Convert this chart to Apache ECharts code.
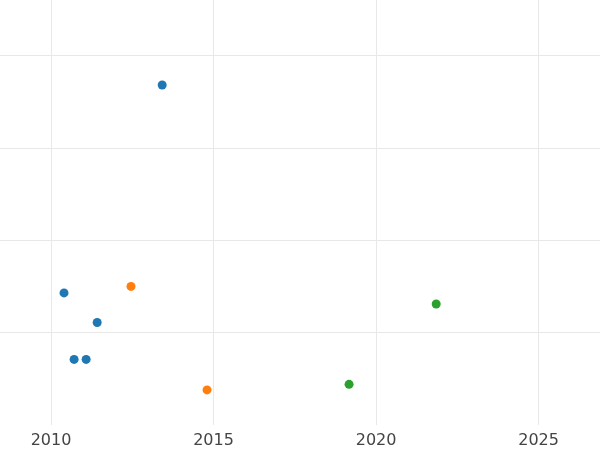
<!DOCTYPE html>
<html>
<head>
<meta charset="utf-8">
<script src="https://cdn.jsdelivr.net/npm/echarts@6/dist/echarts.min.js"></script>
<style>html,body{margin:0;padding:0;background:#fff}#chart{width:600px;height:450px}</style>
</head>
<body>
<div id="chart"></div>
<script>
var blueX = [2013.42, 2010.4, 2011.42, 2010.71, 2011.08];
var blueY = [3.68, 1.43, 1.11, 0.71, 0.71];
var orangeX = [2012.46, 2014.8];
var orangeY = [1.5, 0.38];
var greenX = [2019.17, 2021.85];
var greenY = [0.44, 1.31];
var xTicks = [2010, 2015, 2020, 2025];
var yGrid = [1, 2, 3, 4];

function pairs(xs, ys) {
    var out = [];
    for (var i = 0; i < xs.length; i++) out.push([xs[i], ys[i]]);
    return out;
}

var gridLines = [];
xTicks.forEach(function (v) { gridLines.push({xAxis: v}); });
yGrid.forEach(function (v) { gridLines.push({yAxis: v}); });

var myChart = echarts.init(document.getElementById('chart'));
var option = {
    animation: false,
    grid: {left: 0, right: 0, top: 0, bottom: 25},
    xAxis: {
        type: 'value', min: 2008.43, max: 2026.89,
        axisLine: {show: false}, axisTick: {show: false},
        axisLabel: {
            fontFamily: 'DejaVu Sans', fontSize: 16, color: '#444',
            customValues: xTicks,
            formatter: function (v) { return Math.round(v); }
        },
        splitLine: {show: false}
    },
    yAxis: {
        type: 'value', min: 0, max: 4.6,
        axisLine: {show: false}, axisTick: {show: false},
        axisLabel: {show: false},
        splitLine: {show: false}
    },
    series: [
        {type: 'scatter', symbolSize: 9, itemStyle: {color: '#1f77b4', opacity: 1}, data: pairs(blueX, blueY),
         markLine: {silent: true, symbol: 'none', label: {show: false}, z: 0,
                    lineStyle: {color: '#e8e8e8', type: 'solid', width: 1}, data: gridLines}},
        {type: 'scatter', symbolSize: 9, itemStyle: {color: '#ff7f0e', opacity: 1}, data: pairs(orangeX, orangeY)},
        {type: 'scatter', symbolSize: 9, itemStyle: {color: '#2ca02c', opacity: 1}, data: pairs(greenX, greenY)}
    ]
};
myChart.setOption(option);
</script>
</body>
</html>
